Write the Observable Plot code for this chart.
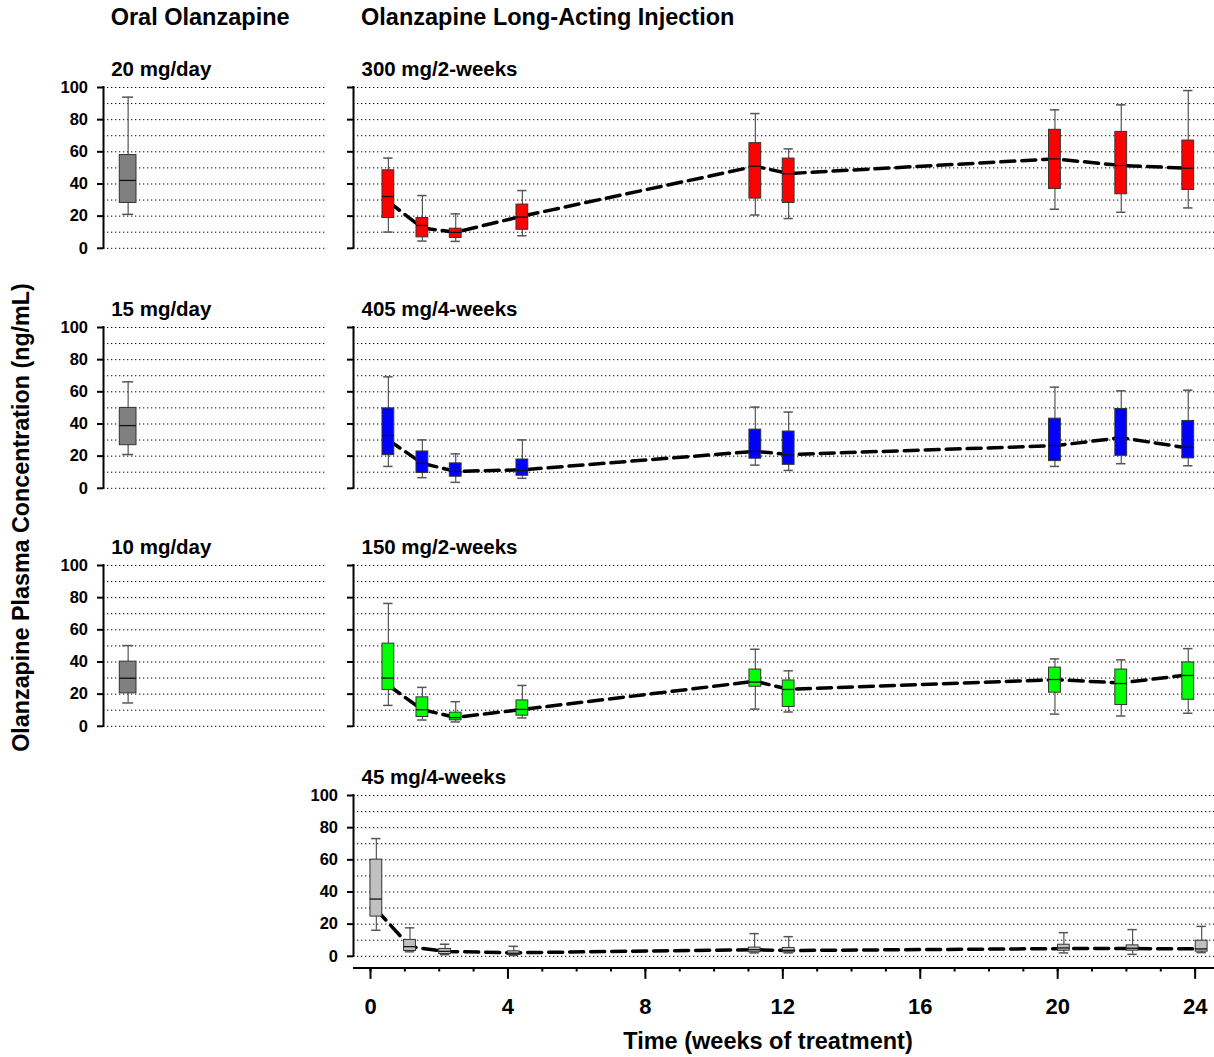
<!DOCTYPE html>
<html>
<head>
<meta charset="utf-8">
<script src="https://cdn.jsdelivr.net/npm/d3@7"></script>
<script src="https://cdn.jsdelivr.net/npm/@observablehq/plot@0.6"></script>
<style>
  body { margin: 0; background: #fff; }
  #chart { position: relative; width: 1214px; height: 1057px; background: #fff;
           font-family: "Liberation Sans", Arial, sans-serif; font-weight: bold; color: #000; }
</style>
</head>
<body>
<div id="chart"></div>
<script>
// ---------- data ----------
const weeksA = [0.52, 1.51, 2.48, 4.42, 11.2, 12.17, 19.92, 21.85, 23.8];   // 300, 405, 150 mg panels
const weeksB = [0.17, 1.15, 2.17, 4.17, 11.18, 12.17, 20.18, 22.18, 24.19]; // 45 mg panel

const oralDoses = ["20 mg/day", "15 mg/day", "10 mg/day"];
const oralLow  = [21.1, 21.0, 14.5];
const oralQ1   = [28.2, 26.8, 20.5];
const oralMed  = [42.2, 39.0, 29.9];
const oralQ3   = [58.0, 50.0, 40.2];
const oralHigh = [94.0, 66.2, 50.2];

const injDoses = ["300 mg/2-weeks", "405 mg/4-weeks", "150 mg/2-weeks", "45 mg/4-weeks"];

const p300Low  = [10.1, 4.5, 4.3, 7.8, 20.7, 18.5, 24.3, 22.4, 25.1];
const p300Q1   = [18.8, 6.8, 6.4, 11.5, 30.9, 28.2, 36.9, 33.6, 36.3];
const p300Med  = [32.2, 14.2, 9.9, 19.4, 51.0, 46.3, 55.6, 51.5, 49.8];
const p300Q3   = [48.5, 18.8, 12.2, 27.2, 65.4, 55.8, 73.7, 72.4, 67.0];
const p300High = [56.1, 32.8, 21.4, 35.9, 83.8, 61.8, 86.1, 89.2, 98.1];
const p300Mean = [29.0, 12.6, 10.0, 20.0, 51.0, 46.5, 55.6, 51.5, 49.8];

const p405Low  = [13.6, 6.6, 3.7, 6.2, 14.4, 11.1, 13.6, 15.3, 14.0];
const p405Q1   = [20.6, 9.5, 7.2, 7.8, 18.4, 14.6, 16.9, 20.2, 18.6];
const p405Med  = [32.8, 15.5, 10.5, 11.1, 22.9, 20.8, 26.6, 31.5, 25.6];
const p405Q3   = [49.7, 22.9, 15.5, 17.9, 36.5, 35.3, 43.3, 49.3, 41.9];
const p405High = [69.3, 30.1, 21.4, 30.1, 50.5, 47.4, 62.9, 60.6, 61.0];
const p405Mean = [30.0, 15.5, 10.5, 11.5, 23.0, 21.0, 26.5, 31.5, 25.0];

const p150Low  = [13.0, 3.9, 2.7, 5.2, 10.7, 8.9, 7.6, 6.4, 8.1];
const p150Q1   = [22.5, 5.8, 3.7, 6.6, 24.6, 12.0, 20.9, 13.2, 16.5];
const p150Med  = [30.0, 10.3, 5.4, 10.5, 27.5, 22.9, 29.1, 26.6, 31.6];
const p150Q3   = [51.4, 18.0, 8.5, 16.1, 35.3, 28.5, 36.5, 35.3, 39.7];
const p150High = [76.4, 24.2, 15.3, 25.4, 47.9, 34.5, 41.9, 41.3, 48.3];
const p150Mean = [25.5, 10.3, 5.5, 10.5, 28.0, 23.0, 29.0, 27.0, 32.0];

const p45Low  = [16.2, 2.8, 1.0, 0.5, 2.1, 2.1, 2.1, 1.2, 2.3];
const p45Q1   = [24.7, 3.3, 1.4, 0.8, 2.5, 2.5, 3.5, 3.5, 2.9];
const p45Med  = [35.6, 6.0, 3.1, 1.9, 4.1, 3.7, 5.2, 5.0, 4.6];
const p45Q3   = [60.1, 10.2, 4.6, 3.1, 5.4, 5.2, 7.2, 6.8, 9.7];
const p45High = [73.2, 17.7, 7.5, 6.2, 14.1, 12.2, 14.7, 16.6, 18.6];
const p45Mean = [29.0, 6.0, 3.0, 2.2, 4.1, 3.6, 4.8, 4.8, 4.6];

const xTicks = [0, 4, 8, 12, 16, 20, 24];
const xMinorTicks = d3.range(0, 25);
const yTicks = [0, 20, 40, 60, 80, 100];
const yGrid = d3.range(0, 101, 10);

// ---------- layout ----------
const FONT = '"Liberation Sans", Arial, sans-serif';
const PX_PER_UNIT = 1.608;          // vertical px per ng/mL
const MT = 30;                      // svg margin above frame
const panelTops = [87.2, 326.7, 565.2, 794.7];
const oralPos = 0.111;              // horizontal position of the oral box in its panel
const chart = document.getElementById("chart");

function rows(t, lo, q1, med, q3, hi, mean) {
  return t.map((tt, i) => ({t: tt, lo: lo[i], q1: q1[i], med: med[i], q3: q3[i], hi: hi[i], mean: mean ? mean[i] : null}));
}

function boxMarks(data, fill, hw, cw) {
  return [
    Plot.ruleX(data, {x: "t", y1: "lo", y2: "hi", stroke: "#555", strokeWidth: 1.2}),
    Plot.ruleY(data, {y: "hi", x1: d => d.t - cw, x2: d => d.t + cw, stroke: "#555", strokeWidth: 1.5}),
    Plot.ruleY(data, {y: "lo", x1: d => d.t - cw, x2: d => d.t + cw, stroke: "#555", strokeWidth: 1.5}),
    Plot.rect(data, {x1: d => d.t - hw, x2: d => d.t + hw, y1: "q1", y2: "q3", fill, stroke: "#333", strokeWidth: 1}),
    Plot.ruleY(data, {y: "med", x1: d => d.t - hw, x2: d => d.t + hw, stroke: "#111", strokeWidth: 1.3})
  ];
}

function place(svg, left, top) {
  svg.style.position = "absolute";
  svg.style.left = left + "px";
  svg.style.top = top + "px";
  svg.style.maxWidth = "none";
  chart.appendChild(svg);
}

// ---------- oral panels ----------
oralDoses.forEach((dose, i) => {
  const data = rows([oralPos], [oralLow[i]], [oralQ1[i]], [oralMed[i]], [oralQ3[i]], [oralHigh[i]]);
  const frameW = 222, ml = 103;
  const svg = Plot.plot({
    width: ml + frameW, height: MT + 160.8 + 6,
    marginLeft: ml, marginRight: 0, marginTop: MT, marginBottom: 6,
    style: {fontFamily: FONT, fontWeight: "bold", background: "transparent", color: "black", overflow: "visible"},
    x: {domain: [0, 1], axis: null},
    y: {domain: [0, 100]},
    marks: [
      Plot.gridY({ticks: yGrid, stroke: "black", strokeOpacity: 1, strokeWidth: 1, strokeDasharray: "1.3,2.7"}),
      Plot.axisY({ticks: yTicks, tickSize: 6, tickPadding: 9.5, stroke: "black", strokeWidth: 2, fontSize: 16.5, label: null}),
      Plot.ruleX([0], {y1: 0, y2: 100, stroke: "black", strokeWidth: 2, strokeLinecap: "square"}),
      ...boxMarks(data, "#808080", 8.35 / frameW, 5.5 / frameW),
      Plot.text([dose], {frameAnchor: "top-left", dx: 7.7, dy: -11.7, lineAnchor: "bottom", textAnchor: "start", fontSize: 20.5, fontWeight: "bold", fill: "black"})
    ]
  });
  place(svg, 0, panelTops[i] - MT);
});

// ---------- injection panels ----------
const injData = [
  rows(weeksA, p300Low, p300Q1, p300Med, p300Q3, p300High, p300Mean),
  rows(weeksA, p405Low, p405Q1, p405Med, p405Q3, p405High, p405Mean),
  rows(weeksA, p150Low, p150Q1, p150Med, p150Q3, p150High, p150Mean),
  rows(weeksB, p45Low, p45Q1, p45Med, p45Q3, p45High, p45Mean)
];
const injColors = ["#ff0000", "#0000ff", "#00ff00", "#c0c0c0"];
const PX_PER_WEEK = 34.36;
const xDomain = [-17 / PX_PER_WEEK, (1214 - 370) / PX_PER_WEEK];

injDoses.forEach((dose, i) => {
  const last = i === 3;
  const ml = 53, width = 914;
  const yMin = last ? -7.3 : 0;
  const frameH = PX_PER_UNIT * (100 - yMin);
  const mb = last ? (1057 - (panelTops[i] + frameH)) : 6;
  const data = injData[i];
  const marks = [
    Plot.gridY({ticks: yGrid, stroke: "black", strokeOpacity: 1, strokeWidth: 1, strokeDasharray: "1.3,2.7"}),
    Plot.axisY({ticks: yTicks, tickSize: 6, tickPadding: 9.5, stroke: "black", strokeWidth: 2, fontSize: 16.5, label: null,
                fill: last ? "black" : "none"}),
    Plot.ruleX([xDomain[0]], {y1: 0, y2: 100, stroke: "black", strokeWidth: 2, strokeLinecap: "square"}),
    Plot.line(data, {x: "t", y: "mean", stroke: "black", strokeWidth: 3.5, strokeDasharray: "14,7"}),
    ...boxMarks(data, injColors[i], 5.9 / PX_PER_WEEK, 4.7 / PX_PER_WEEK),
    Plot.text([dose], {frameAnchor: "top-left", dx: 8, dy: -11.7, lineAnchor: "bottom", textAnchor: "start", fontSize: 20.5, fontWeight: "bold", fill: "black"})
  ];
  if (last) {
    marks.push(
      Plot.ruleY([yMin], {stroke: "black", strokeWidth: 2}),
      Plot.axisX({ticks: xMinorTicks, tickSize: 4, stroke: "black", strokeWidth: 2, fill: "none", label: null}),
      Plot.axisX({ticks: xTicks, tickSize: 11.3, tickPadding: 18.7, stroke: "black", strokeWidth: 2, fontSize: 22, label: null})
    );
  }
  const svg = Plot.plot({
    width, height: MT + frameH + mb,
    marginLeft: ml, marginRight: 0, marginTop: MT, marginBottom: mb,
    style: {fontFamily: FONT, fontWeight: "bold", background: "transparent", color: "black", overflow: "visible"},
    x: last ? {domain: xDomain} : {domain: xDomain, axis: null},
    y: {domain: [yMin, 100]},
    marks
  });
  place(svg, 300, panelTops[i] - MT);
});

// ---------- titles ----------
const ov = d3.select(chart).append("svg")
  .attr("width", 1214).attr("height", 1057)
  .style("position", "absolute").style("left", "0px").style("top", "0px")
  .style("pointer-events", "none")
  .attr("font-family", FONT).attr("font-weight", "bold").attr("fill", "black");
ov.append("text").attr("x", 110.7).attr("y", 25).attr("font-size", 23.5).text("Oral Olanzapine");
ov.append("text").attr("x", 361).attr("y", 25).attr("font-size", 23.5).text("Olanzapine Long-Acting Injection");
ov.append("text").attr("transform", "translate(29,517.5) rotate(-90)").attr("text-anchor", "middle")
  .attr("font-size", 23.3).text("Olanzapine Plasma Concentration (ng/mL)");
ov.append("text").attr("x", 768).attr("y", 1049).attr("text-anchor", "middle").attr("font-size", 23.5)
  .text("Time (weeks of treatment)");
</script>
</body>
</html>
